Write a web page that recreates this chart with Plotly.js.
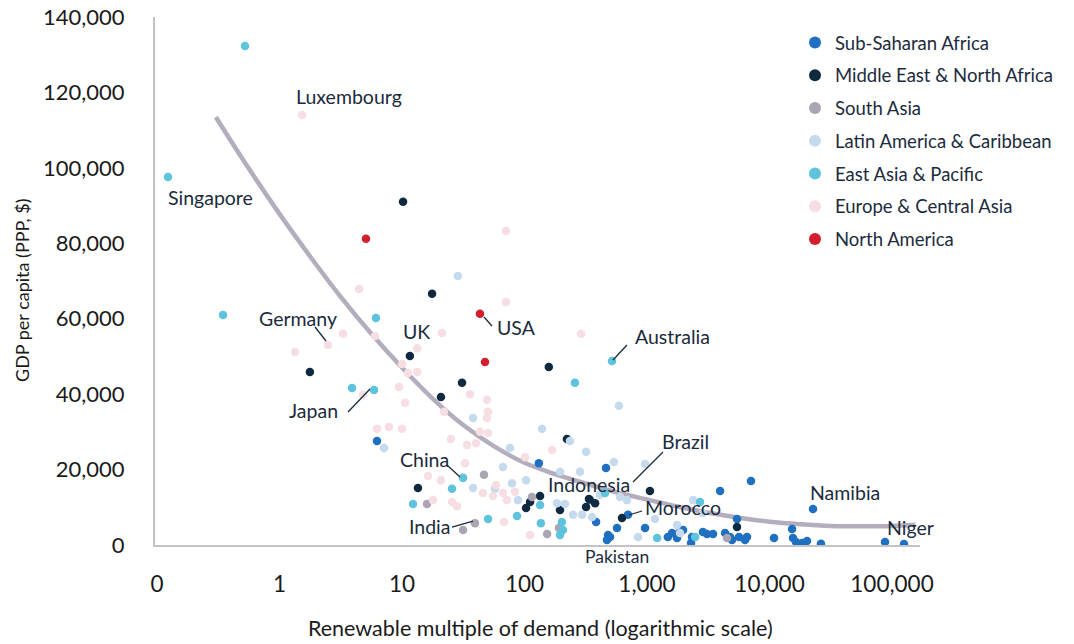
<!DOCTYPE html>
<html>
<head>
<meta charset="utf-8">
<script src="https://cdn.plot.ly/plotly-3.0.1.min.js"></script>
<style>
html,body{margin:0;padding:0;background:#fff;}
#chart{width:1074px;height:644px;}
</style>
</head>
<body>
<div id="chart"></div>
<script>
// ---- Data (renewable multiple of demand, GDP per capita PPP $) ----
const regions = ["Sub-Saharan Africa","Middle East & North Africa","South Asia","Latin America & Caribbean","East Asia & Pacific","Europe & Central Asia","North America"];

const ssaX = [6.25,131,463,7060,3950,5430,700,384,569,481,471,964,1480,1600,1760,1820,1970,2330,2290,2860,3090,3460,4340,4760,4940,5640,6310,6550,22650,15280,10890,15560,16450,18410,20230,26310,87700,125300,343,499];
const ssaY = [27600,21700,20400,17000,14300,6900,8000,6100,4500,2650,1330,4500,2100,3200,1860,3200,4000,2100,530,3450,2900,2900,3200,2100,1300,2100,1300,2100,9550,4250,1860,1860,800,530,1060,300,800,265,11900,2100];

const menaX = [10.2,17.6,11.6,1.77,158,30.9,20.8,13.5,134,111,103,195,318,377,222,1057,625,5430,336];
const menaY = [91000,66600,50100,45900,47200,43000,39250,15100,13000,11400,9800,9300,10100,11100,28100,14300,7160,4770,12200];

const saX = [16.0,31.5,39.4,46.7,115,153,191,4500];
const saY = [10900,4000,5800,18600,12700,2900,4500,1860];

const lacX = [28.6,590,38.0,139,235,76.2,318,538,964,66.7,195,284,103,79.1,38.0,57.4,184,214,88.5,249,295,413,602,687,1160,845,1760,1860,2380,2860,7.13,356];
const lacY = [71300,36900,33700,30800,27600,25700,24700,22000,21500,20700,19400,19400,17200,16400,15100,14900,11100,10900,11900,8000,8000,13300,12700,11900,6900,2100,5300,3200,11900,8500,25700,7400];

const eapX = [0.523,0.123,0.346,6.13,3.91,5.91,518,258,31.5,25.6,12.3,134,86.9,50.4,136,202,206,195,454,1210,2470,2710];
const eapY = [132300,97600,61000,60200,41600,41100,48800,43000,17800,14900,10900,10600,7700,6900,5800,6100,4000,2650,13800,1860,2100,11400];

const ecaX = [1.53,70.6,4.46,70.6,3.30,2.49,1.34,21.2,289,6.02,13.3,10.0,13.3,11.2,4.81,9.45,10.6,35.9,49.4,22.0,50.4,49.4,6.25,7.83,10.0,25.1,33.9,40.2,50.4,43.3,168,101,32.7,16.3,20.8,58.5,45.8,55.3,66.7,83.6,71.9,17.9,25.6,28.1,68.0,111];
const ecaY = [114000,83300,67900,64400,56000,53000,51200,56200,56000,55400,52200,48000,45900,45600,39800,41900,37700,40000,38500,35300,35300,33700,30800,31300,30800,28100,26500,27000,29700,30000,25200,23300,21700,18300,17200,15900,13800,13000,13800,14100,11900,11900,11400,10300,6100,2650];

const naX = [5.08,43.3,47.6];
const naY = [81200,61300,48500];

// Trend line
const trendX = [0.302,0.562,1,1.78,3.16,5.62,10,17.8,31.6,56.2,100,178,316,562,1000,1778,3162,5623,10000,17780,31620,56230,100000,155000];
const trendY = [113500,99800,87800,76500,65800,56000,47050,38800,31800,26200,21800,18800,16300,14000,12050,10200,8550,7250,6170,5500,5050,4950,5050,5350];

const xTickVals = [0.1,1,10,100,1000,10000,100000];
const xTickText = ["0","1","10","100","1,000","10,000","100,000"];
const yTickVals = [0,20000,40000,60000,80000,100000,120000,140000];

// ---- Styling ----
const colors = ["#1f70c1","#0f2a40","#aaa4b3","#c6daee","#5ec3dc","#f6dee2","#d11f2c"];
const seriesX = [ssaX,menaX,saX,lacX,eapX,ecaX,naX];
const seriesY = [ssaY,menaY,saY,lacY,eapY,ecaY,naY];
const FONT = "Lato, 'Noto Sans', sans-serif";
const TXT = "#1b2b3c";

const traces = [{
  x: trendX, y: trendY, mode: "lines", type: "scatter",
  line: {color: "#b3adbd", width: 4.5, shape: "spline", smoothing: 1},
  showlegend: false, hoverinfo: "skip"
}];
regions.forEach((r,i)=>{
  traces.push({
    x: seriesX[i], y: seriesY[i], mode: "markers", type: "scatter", name: r,
    legendgroup: "g"+i,
    marker: {color: colors[i], size: 8.5, line: {width: 0}}
  });
});

// plot area pixel helpers (for placing labels only)
const L0 = 155, W = 765, B0 = 545, H = 528;
const px = v => (v - L0) / W;
const py = v => (B0 - v) / H;

const labels = [
  ["Luxembourg",349,97],["Singapore",210,197],["Germany",298,318],["UK",416,331],
  ["USA",516,327],["Japan",313,410],["China",424,459],["India",430,526],
  ["Indonesia",589,484],["Brazil",685,441],["Morocco",683,507],["Australia",672,336],
  ["Namibia",845,492],["Niger",910,527],["Pakistan",617,556]
];
const annotations = labels.map(l=>({
  text: l[0], xref: "paper", yref: "paper", x: px(l[1]), y: py(l[2]),
  xanchor: "center", yanchor: "middle", showarrow: false,
  font: {family: FONT, size: l[0]==="Pakistan"?17.5:19.5, color: TXT}
}));
annotations.push({
  text: "Renewable multiple of demand (logarithmic scale)", xref: "paper", yref: "paper",
  x: px(540), y: py(628), xanchor: "center", yanchor: "middle", showarrow: false,
  font: {family: FONT, size: 21.5, color: "#1a1a1a"}
});
annotations.push({
  text: "GDP per capita (PPP, $)", xref: "paper", yref: "paper",
  x: px(22), y: py(290), xanchor: "center", yanchor: "middle", showarrow: false, textangle: -90,
  font: {family: FONT, size: 18, color: "#1a1a1a"}
});

const leaders = [
  [315,327,326,341],[484,317,492,326],[348,412,370,389],[447,465,460,477],
  [452,527,473,521],[613,360,627,345],[663,452,633,482],[642,511,629,515]
];
const shapes = leaders.map(s=>({
  type: "line", xref: "paper", yref: "paper",
  x0: px(s[0]), y0: py(s[1]), x1: px(s[2]), y1: py(s[3]),
  line: {color: TXT, width: 1.3}
}));

const layout = {
  width: 1074, height: 644,
  margin: {l: 155, r: 154, t: 17, b: 99},
  paper_bgcolor: "#fff", plot_bgcolor: "#fff",
  font: {family: FONT, color: TXT},
  showlegend: true,
  legend: {
    x: px(795), y: py(24), xanchor: "left", yanchor: "top",
    font: {family: FONT, size: 18.5, color: TXT},
    itemsizing: "constant", tracegroupgap: 5.7, bgcolor: "rgba(0,0,0,0)"
  },
  xaxis: {
    type: "log", range: [-1.0163, 5.2286],
    tickvals: xTickVals, ticktext: xTickText,
    showgrid: false, zeroline: false, ticks: "",
    showline: true, linecolor: "#c3c3c6", linewidth: 2,
    tickfont: {family: FONT, size: 22.5, color: "#1a1a1a"},
    ticklabelstandoff: 18
  },
  yaxis: {
    range: [0, 140000], tickvals: yTickVals, tickformat: ",",
    showgrid: false, zeroline: false, ticks: "",
    showline: true, linecolor: "#c3c3c6", linewidth: 2,
    tickfont: {family: FONT, size: 22, color: "#1a1a1a"},
    ticklabelstandoff: 24
  },
  annotations: annotations,
  shapes: shapes
};

Plotly.newPlot("chart", traces, layout, {displayModeBar: false, staticPlot: true});
</script>
</body>
</html>
